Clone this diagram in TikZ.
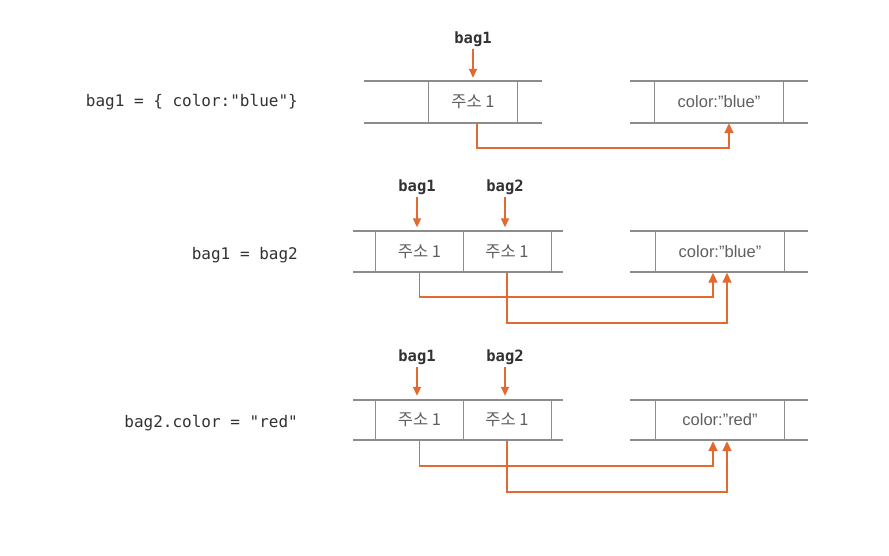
\documentclass[tikz,border=0pt]{standalone}
\usepackage{fontspec}
\setmainfont{Liberation Sans}
\newfontfamily\krfont{Noto Sans CJK KR}
\newfontfamily\codefont{DejaVu Sans Mono}
\usetikzlibrary{arrows.meta,calc}
\definecolor{orng}{RGB}{226,106,48}
\definecolor{lgray}{RGB}{140,140,140}
\definecolor{tgray}{RGB}{95,95,95}
\definecolor{dgray}{RGB}{50,50,50}
\begin{document}
\begin{tikzpicture}[x=1pt,y=-1pt,
  strip/.style={draw=lgray,line width=1.3pt},
  cell/.style={minimum height=42pt,inner sep=0pt,text=tgray},
  addr/.style={cell,font=\krfont\fontsize{16.5}{17}\selectfont},
  obj/.style={cell,font=\fontsize{16.5}{17}\selectfont},
  code/.style={anchor=east,inner sep=0pt,text=dgray,font=\codefont\fontsize{16}{17}\selectfont},
  var/.style={inner sep=2pt,text=dgray,font=\codefont\bfseries\fontsize{15.5}{16}\selectfont},
  ptr/.style={draw=orng,line width=1.8pt,-{Triangle[length=9pt,width=8pt]},shorten >=3pt},
  conn/.style={draw=orng,line width=1.8pt,-{Triangle[length=10pt,width=9pt]}}
]
\useasboundingbox (0,0) rectangle (889,556);

% ---------- Row 1 ----------
\node[code] (c1) at (298,102) {bag1 = \{ color:"blue"\}};
\node[addr,minimum width=88pt] (r1a) at (473,102) {주소 1};
\node[obj,minimum width=128pt] (r1o) at (719,102) {color:"blue"};
\draw[strip] (364,81) -- (542,81) (364,123) -- (542,123);
\draw[strip] (r1a.north west) -- (r1a.south west) (r1a.north east) -- (r1a.south east);
\draw[strip] (630,81) -- (808,81) (630,123) -- (808,123);
\draw[strip] (r1o.north west) -- (r1o.south west) (r1o.north east) -- (r1o.south east);
\node[var] (v1) at (473,39) {bag1};
\draw[ptr] (v1.south) -- (r1a.north);
\coordinate (s1) at ([xshift=4pt]r1a.south);
\coordinate (t1) at ([xshift=10pt]r1o.south);
\draw[conn] (s1) -- ++(0,25) -| (t1);

% ---------- Row 2 ----------
\node[code] (c2) at (298,255) {bag1 = bag2};
\node[addr,minimum width=87pt] (r2a) at (419.5,251.5) {주소 1};
\node[addr,minimum width=88pt] (r2b) at (507,251.5) {주소 1};
\node[obj,minimum width=128pt] (r2o) at (720,251.5) {color:"blue"};
\draw[strip] (353,231) -- (563,231) (353,272) -- (563,272);
\draw[strip] (r2a.north west) -- (r2a.south west) (r2a.north east) -- (r2a.south east)
             (r2b.north east) -- (r2b.south east);
\draw[strip] (630,231) -- (808,231) (630,272) -- (808,272);
\draw[strip] (r2o.north west) -- (r2o.south west) (r2o.north east) -- (r2o.south east);
\node[var] (v2a) at (417,187) {bag1};
\node[var] (v2b) at (505,187) {bag2};
\draw[ptr] (v2a.south) -- (v2a.south |- r2a.north);
\draw[ptr] (v2b.south) -- (v2b.south |- r2b.north);
\coordinate (t2a) at ([xshift=-7pt]r2o.south);
\coordinate (t2b) at ([xshift=7pt]r2o.south);
\draw[conn] (r2a.south) -- ++(0,24) -| (t2a);
\draw[conn] (r2b.south) -- ++(0,50) -| (t2b);

% ---------- Row 3 ----------
\node[code] (c3) at (298,423) {bag2.color = "red"};
\node[addr,minimum width=87pt] (r3a) at (419.5,420) {주소 1};
\node[addr,minimum width=88pt] (r3b) at (507,420) {주소 1};
\node[obj,minimum width=128pt] (r3o) at (720,420) {color:"red"};
\draw[strip] (353,400) -- (563,400) (353,440) -- (563,440);
\draw[strip] (r3a.north west) -- (r3a.south west) (r3a.north east) -- (r3a.south east)
             (r3b.north east) -- (r3b.south east);
\draw[strip] (630,400) -- (808,400) (630,440) -- (808,440);
\draw[strip] (r3o.north west) -- (r3o.south west) (r3o.north east) -- (r3o.south east);
\node[var] (v3a) at (417,357) {bag1};
\node[var] (v3b) at (505,357) {bag2};
\draw[ptr] (v3a.south) -- (v3a.south |- r3a.north);
\draw[ptr] (v3b.south) -- (v3b.south |- r3b.north);
\coordinate (t3a) at ([xshift=-7pt]r3o.south);
\coordinate (t3b) at ([xshift=7pt]r3o.south);
\draw[conn] (r3a.south) -- ++(0,25) -| (t3a);
\draw[conn] (r3b.south) -- ++(0,51) -| (t3b);
\end{tikzpicture}
\end{document}
